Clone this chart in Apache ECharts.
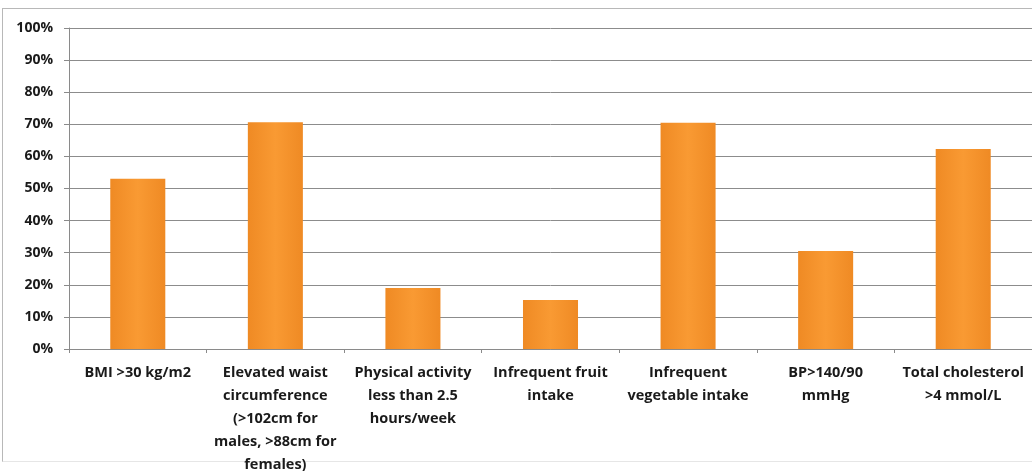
<!DOCTYPE html>
<html>
<head>
<meta charset="utf-8">
<script src="https://cdn.jsdelivr.net/npm/echarts@6/dist/echarts.min.js"></script>
<style>
  html, body { margin: 0; padding: 0; background: #fff; }
  .wrap { position: relative; width: 1032px; height: 471px; overflow: hidden; }
  .frame { position: absolute; left: 2px; top: 8px; width: 1040px; height: 452px;
    border-left: 1px solid #b8b8b8; border-top: 1px solid #b8b8b8; border-bottom: 1px solid #e6e6e6; }
  #chart { position: absolute; left: 0; top: 0; width: 1032px; height: 471px; }
</style>
</head>
<body>
<div class="wrap">
  <div class="frame"></div>
  <div id="chart"></div>
</div>
<script>
const categories = [
  'BMI >30 kg/m2',
  'Elevated waist\ncircumference\n(>102cm for\nmales, >88cm for\nfemales)',
  'Physical activity\nless than 2.5\nhours/week',
  'Infrequent fruit\nintake',
  'Infrequent\nvegetable intake',
  'BP>140/90\nmmHg',
  'Total cholesterol\n>4 mmol/L'
]
const percentages = [53, 70.6, 19, 15.3, 70.5, 30.5, 62.3]
const yTicks = { min: 0, max: 100, step: 10 }

const myChart = echarts.init(document.getElementById('chart'))
// bar fill: orange, slightly darker at the edges
const barColor = new echarts.graphic.LinearGradient(0, 0, 1, 0, [
  { offset: 0, color: '#ef8a24' },
  { offset: 0.5, color: '#f99a33' },
  { offset: 1, color: '#ef8a24' }
])
myChart.setOption({
  animation: false,
  grid: {
    left: 69,
    right: 0,
    top: 28,
    bottom: 122,
    outerBoundsMode: 'none'
  },
  xAxis: {
    type: 'category',
    data: categories,
    axisLine: { lineStyle: { color: '#8a8a8a', width: 1 } },
    axisTick: { show: true, length: 4, lineStyle: { color: '#8a8a8a' } },
    axisLabel: {
      interval: 0,
      margin: 12,
      color: '#1a1a1a',
      fontFamily: 'Open Sans',
      fontWeight: 'bold',
      fontSize: 14.5,
      lineHeight: 23
    }
  },
  yAxis: {
    type: 'value',
    min: yTicks.min,
    max: yTicks.max,
    interval: yTicks.step,
    axisLine: { show: true, lineStyle: { color: '#8a8a8a' } },
    axisTick: { show: true, length: 5, lineStyle: { color: '#8a8a8a' } },
    splitLine: { lineStyle: { color: '#8c8c8c', width: 1 } },
    axisLabel: {
      margin: 16,
      color: '#1a1a1a',
      fontFamily: 'Open Sans',
      fontWeight: 'bold',
      fontSize: 14,
      formatter: '{value}%'
    }
  },
  series: [{
    type: 'bar',
    data: percentages,
    barWidth: '40%',
    itemStyle: { color: barColor }
  }]
})
</script>
</body>
</html>
